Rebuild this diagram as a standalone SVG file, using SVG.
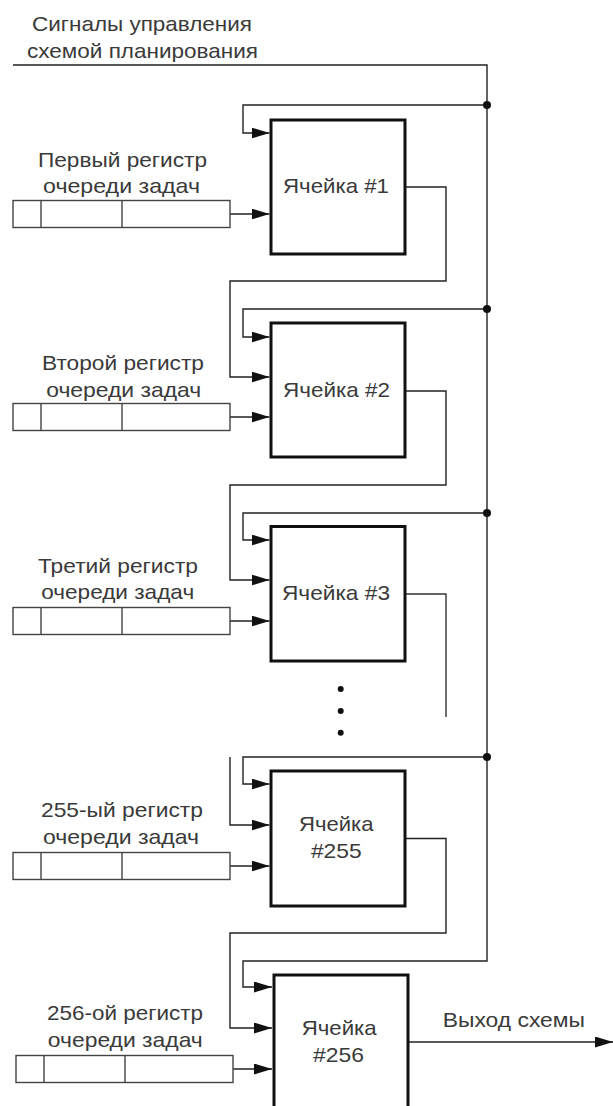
<svg xmlns="http://www.w3.org/2000/svg" width="613" height="1106" viewBox="0 0 613 1106">
<defs>
<marker id="arr" markerUnits="userSpaceOnUse" markerWidth="19" markerHeight="12" refX="18" refY="5.5" orient="auto">
<path d="M0,0 L18,5.5 L0,11 z" fill="#111"/>
</marker>
<style>
text{font-family:"Liberation Sans",Arial,sans-serif;font-size:21px;fill:#3a3a3a;}
.box{fill:#fff;stroke:#111;stroke-width:3;}
.reg{fill:#fff;stroke:#444;stroke-width:1.4;}
.ln{fill:none;stroke:#333;stroke-width:1.4;}
.ar{fill:none;stroke:#222;stroke-width:1.4;marker-end:url(#arr);}
.dot{fill:#111;}
</style>
</defs>
<rect width="613" height="1106" fill="#fff"/>

<g id="title">
<text x="32" y="31" textLength="220" lengthAdjust="spacingAndGlyphs">Сигналы управления</text>
<text x="27" y="58" textLength="231" lengthAdjust="spacingAndGlyphs">схемой планирования</text>
</g>

<g id="connectors">
<path class="ar" d="M13,65 H487 V961 H243 V987 H272"/>
<path class="ar" d="M487,105 H243 V133 H269.5"/>
<path class="ar" d="M487,309 H243 V337 H269.5"/>
<path class="ar" d="M487,513 H243 V540 H269.5"/>
<path class="ar" d="M487,757 H243 V784 H269.5"/>
<path class="ar" d="M406,187 H446 V281 H230 V377 H269.5"/>
<path class="ar" d="M406,391 H446 V485 H230 V580 H269.5"/>
<path class="ln" d="M406,594 H446 V717"/>
<path class="ar" d="M230,757 V825 H269.5"/>
<path class="ar" d="M406,838.5 H446 V933 H230 V1028 H272"/>
<path class="ar" d="M230,214 H269.5"/>
<path class="ar" d="M230,417 H269.5"/>
<path class="ar" d="M230,621 H269.5"/>
<path class="ar" d="M230,866 H269.5"/>
<path class="ar" d="M233,1069 H272"/>
<path class="ar" d="M409,1042 H613"/>
<circle class="dot" cx="487" cy="105" r="4"/>
<circle class="dot" cx="487" cy="309" r="4"/>
<circle class="dot" cx="487" cy="513" r="4"/>
<circle class="dot" cx="487" cy="757" r="4"/>
</g>

<g id="reg1">
<text x="122.5" y="167" text-anchor="middle" textLength="169" lengthAdjust="spacingAndGlyphs">Первый регистр</text>
<text x="121.5" y="193" text-anchor="middle" textLength="157" lengthAdjust="spacingAndGlyphs">очереди задач</text>
<rect class="reg" x="13" y="200.5" width="217" height="27"/>
<path class="reg" d="M41,200.5 V227.5 M122,200.5 V227.5"/>
</g>
<g id="reg2">
<text x="123" y="370" text-anchor="middle" textLength="162" lengthAdjust="spacingAndGlyphs">Второй регистр</text>
<text x="123.7" y="396.7" text-anchor="middle" textLength="155" lengthAdjust="spacingAndGlyphs">очереди задач</text>
<rect class="reg" x="13" y="403.5" width="217" height="27"/>
<path class="reg" d="M41,403.5 V430.5 M122,403.5 V430.5"/>
</g>
<g id="reg3">
<text x="118" y="572.7" text-anchor="middle" textLength="160" lengthAdjust="spacingAndGlyphs">Третий регистр</text>
<text x="117.7" y="599.3" text-anchor="middle" textLength="153" lengthAdjust="spacingAndGlyphs">очереди задач</text>
<rect class="reg" x="13" y="607.5" width="217" height="27"/>
<path class="reg" d="M41,607.5 V634.5 M122,607.5 V634.5"/>
</g>
<g id="reg255">
<text x="122" y="817" text-anchor="middle" textLength="162" lengthAdjust="spacingAndGlyphs">255-ый регистр</text>
<text x="121" y="844" text-anchor="middle" textLength="156" lengthAdjust="spacingAndGlyphs">очереди задач</text>
<rect class="reg" x="13" y="852.5" width="217" height="27"/>
<path class="reg" d="M41,852.5 V879.5 M122,852.5 V879.5"/>
</g>
<g id="reg256">
<text x="125" y="1020" text-anchor="middle" textLength="156" lengthAdjust="spacingAndGlyphs">256-ой регистр</text>
<text x="125.3" y="1047.3" text-anchor="middle" textLength="155" lengthAdjust="spacingAndGlyphs">очереди задач</text>
<rect class="reg" x="16" y="1055.5" width="217" height="27"/>
<path class="reg" d="M44,1055.5 V1082.5 M125,1055.5 V1082.5"/>
</g>

<g id="cell1">
<rect class="box" x="271" y="120" width="134" height="134"/>
<text x="336" y="193.3" text-anchor="middle" textLength="106" lengthAdjust="spacingAndGlyphs">Ячейка #1</text>
</g>
<g id="cell2">
<rect class="box" x="271" y="323" width="134" height="134"/>
<text x="336.5" y="396.7" text-anchor="middle" textLength="107" lengthAdjust="spacingAndGlyphs">Ячейка #2</text>
</g>
<g id="cell3">
<rect class="box" x="271" y="526.5" width="134" height="134.5"/>
<text x="336" y="600" text-anchor="middle" textLength="108" lengthAdjust="spacingAndGlyphs">Ячейка #3</text>
</g>
<g id="ellipsis">
<circle class="dot" cx="340.7" cy="689" r="3"/>
<circle class="dot" cx="340.7" cy="711" r="3"/>
<circle class="dot" cx="340.7" cy="732.7" r="3"/>
</g>
<g id="cell255">
<rect class="box" x="271" y="771" width="134" height="135"/>
<text x="336.2" y="830.7" text-anchor="middle" textLength="74.5" lengthAdjust="spacingAndGlyphs">Ячейка</text>
<text x="336.3" y="858.3" text-anchor="middle" textLength="50.7" lengthAdjust="spacingAndGlyphs">#255</text>
</g>
<g id="cell256">
<rect class="box" x="274" y="975" width="134" height="140"/>
<text x="339.2" y="1035" text-anchor="middle" textLength="75" lengthAdjust="spacingAndGlyphs">Ячейка</text>
<text x="338.5" y="1062" text-anchor="middle" textLength="51" lengthAdjust="spacingAndGlyphs">#256</text>
</g>
<g id="output">
<text x="442.7" y="1026.7" textLength="142.3" lengthAdjust="spacingAndGlyphs">Выход схемы</text>
</g>
</svg>
